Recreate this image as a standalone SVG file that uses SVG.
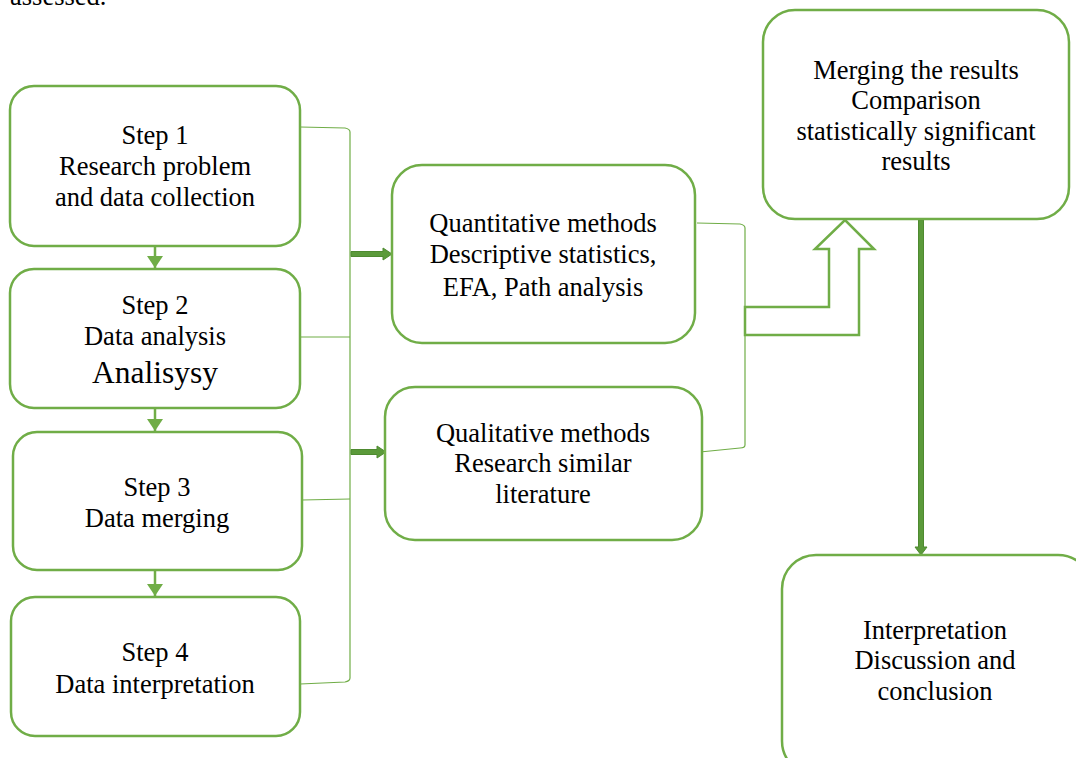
<svg xmlns="http://www.w3.org/2000/svg" width="1076" height="758" viewBox="0 0 1076 758">
<style>
.box{fill:#fff;stroke:#70AD47;stroke-width:2.5}
.t{font-family:"Liberation Serif","Times New Roman",serif;font-size:26.5px;fill:#000;text-anchor:middle}
.thin{fill:none;stroke:#70AD47;stroke-width:1.2}
</style>
<defs>
<marker id="sm" markerWidth="16" markerHeight="16" refX="12" refY="8" orient="auto" markerUnits="userSpaceOnUse"><path d="M0,0 L12,8 L0,16 Z" fill="#70AD47"/></marker>
</defs>
<rect width="1076" height="758" fill="#fff"/>
<text x="10" y="5" style="font-family:'Liberation Serif',serif;font-size:26.5px">assessed.</text>
<g id="connectors">
<g stroke="#70AD47" stroke-width="2.5" fill="none">
<line x1="155" y1="246" x2="155" y2="268" marker-end="url(#sm)"/>
<line x1="155" y1="408" x2="155" y2="431" marker-end="url(#sm)"/>
<line x1="155" y1="570" x2="155" y2="596" marker-end="url(#sm)"/>
</g>
<path class="thin" d="M300,127 L345,128 Q350,129 350,132 L350,678 Q350,681 345,682 L300,684"/>
<path class="thin" d="M300,337 L350,337 M302,500 L350,499"/>
<path class="thin" d="M697,223 L740,224 Q745,225 745,228 L745,445 Q745,448 740,448 L700,452"/>
<path d="M351,251.5 L383,251.5 L383,248 L392,254 L383,260 L383,256.5 L351,256.5 Z" fill="#5B9A3A" stroke="#4E8A30" stroke-width="1"/>
<path d="M351,449.5 L377,449.5 L377,446 L386,452 L377,458 L377,454.5 L351,454.5 Z" fill="#5B9A3A" stroke="#4E8A30" stroke-width="1"/>
<path d="M745,307 L829,307 L829,249 L815,249 L845,220 L874,249 L859,249 L859,335 L745,335 Z" fill="#fff" stroke="#70AD47" stroke-width="2.5"/>
<path d="M918.5,220 L923.5,220 L923.5,547 L927,547 L921,555 L915,547 L918.5,547 Z" fill="#5B9A3A" stroke="#4E8A30" stroke-width="1"/>
</g>
<g id="step1"><rect class="box" x="10" y="86" width="290" height="160" rx="24"/>
<text class="t" x="155" y="144">Step 1</text><text class="t" x="155" y="175">Research problem</text><text class="t" x="155" y="206">and data collection</text></g>
<g id="step2"><rect class="box" x="10" y="269" width="290" height="139" rx="24"/>
<text class="t" x="155" y="314">Step 2</text><text class="t" x="155" y="345">Data analysis</text><text class="t" x="155" y="383" style="font-size:31.5px">Analisysy</text></g>
<g id="step3"><rect class="box" x="13" y="432" width="289" height="138" rx="24"/>
<text class="t" x="157" y="496">Step 3</text><text class="t" x="157" y="527">Data merging</text></g>
<g id="step4"><rect class="box" x="11" y="597" width="289" height="139" rx="24"/>
<text class="t" x="155" y="661">Step 4</text><text class="t" x="155" y="693">Data interpretation</text></g>
<g id="quantitative"><rect class="box" x="392" y="165" width="303" height="178" rx="30"/>
<text class="t" x="543" y="232">Quantitative methods</text><text class="t" x="543" y="263">Descriptive statistics,</text><text class="t" x="543" y="296">EFA, Path analysis</text></g>
<g id="qualitative"><rect class="box" x="385" y="387" width="317" height="153" rx="30"/>
<text class="t" x="543" y="442">Qualitative methods</text><text class="t" x="543" y="472">Research similar</text><text class="t" x="543" y="503">literature</text></g>
<g id="merging"><rect class="box" x="763" y="10" width="306" height="209" rx="32"/>
<text class="t" x="916" y="79">Merging the results</text><text class="t" x="916" y="109">Comparison</text><text class="t" x="916" y="140">statistically significant</text><text class="t" x="916" y="170">results</text></g>
<g id="interpretation"><rect class="box" x="782" y="555" width="310" height="220" rx="34"/>
<text class="t" x="935" y="639">Interpretation</text><text class="t" x="935" y="669">Discussion and</text><text class="t" x="935" y="700">conclusion</text></g>
</svg>
